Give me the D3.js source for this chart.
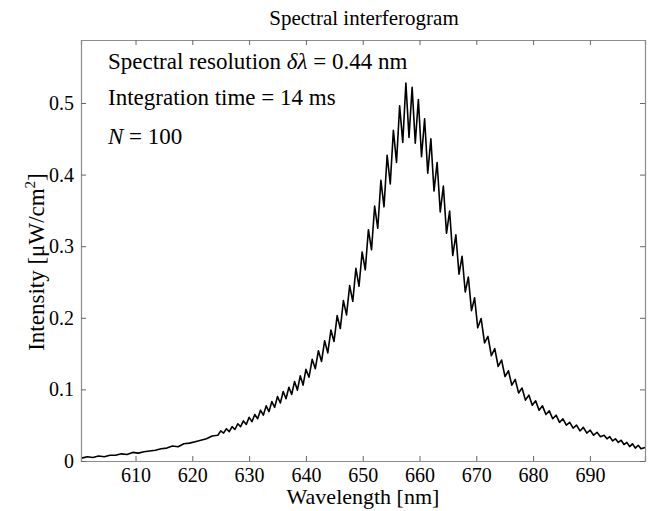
<!DOCTYPE html>
<html>
<head>
<meta charset="utf-8">
<script src="https://cdn.jsdelivr.net/npm/d3@7"></script>
<style>
  body { margin: 0; background: #fff; }
  text { font-family: "Liberation Serif", "Times New Roman", serif; }
</style>
</head>
<body>
<div id="chart"></div>
<script>
var width = 648,
    height = 511,
    margin = {top: 40, right: 3, bottom: 50, left: 81};

// wavelength [nm] and intensity [uW/cm^2]
var wavelength = [
  600.5, 601.5, 602.5, 603.5, 604.5, 605.5, 606.5, 607.5, 608.5, 609.5,
  610.5, 611.5, 612.5, 613.5, 614.5, 615.5, 616.5, 617.5, 618.5, 619.5,
  620.5, 621.5, 622.5, 623.5, 624.5,
  625.0, 625.5, 626.0, 626.5, 627.0, 627.5, 628.0, 628.5, 629.0, 629.5,
  630.0, 630.5, 631.0, 631.5, 632.0, 632.5, 633.0, 633.5, 634.0, 634.5,
  635.0, 635.5, 636.0, 636.5, 637.0, 637.5, 638.0, 638.5, 639.0, 639.5, 640.0,
  640.55, 641.1, 641.65, 642.2, 642.75, 643.3, 643.85, 644.4, 644.95, 645.5,
  646.05, 646.6, 647.15, 647.7, 648.25, 648.8, 649.35, 649.9, 650.45, 651.0,
  651.55, 652.1, 652.65, 653.2, 653.75, 654.3, 654.85, 655.4, 655.95, 656.5,
  657.05, 657.6, 658.15, 658.7, 659.25, 659.8, 660.35, 660.9, 661.45, 662.0,
  662.55, 663.1, 663.65, 664.2, 664.75, 665.3, 665.85, 666.4, 666.95, 667.5,
  668.05, 668.6, 669.15, 669.7, 670.25,
  670.85, 671.45, 672.05, 672.65, 673.25, 673.85, 674.45, 675.05, 675.65, 676.25,
  676.85, 677.45, 678.05, 678.65, 679.25, 679.85, 680.45, 681.05, 681.65, 682.25,
  682.85, 683.45, 684.05, 684.65, 685.25, 685.85, 686.45, 687.05, 687.65, 688.25,
  688.85, 689.45, 690.05, 690.65, 691.25, 691.85,
  692.5, 693.0, 693.5, 694.0, 694.5, 695.0, 695.5, 696.0, 696.5, 697.0,
  697.5, 698.0, 698.5, 699.0, 699.7
];
var intensity = [
  0.004, 0.006, 0.005, 0.007, 0.006, 0.008, 0.008, 0.010, 0.009, 0.012,
  0.011, 0.013, 0.014, 0.015, 0.017, 0.018, 0.021, 0.020, 0.024, 0.025,
  0.027, 0.029, 0.031, 0.035, 0.036,
  0.042, 0.039, 0.045, 0.041, 0.048, 0.044, 0.052, 0.048, 0.056, 0.051,
  0.061, 0.055, 0.065, 0.059, 0.071, 0.064, 0.077, 0.069, 0.083, 0.075,
  0.090, 0.081, 0.097, 0.087, 0.103, 0.093, 0.111, 0.099, 0.119, 0.106, 0.128,
  0.117, 0.142, 0.129, 0.154, 0.139, 0.168, 0.151, 0.183, 0.167, 0.203,
  0.185, 0.224, 0.204, 0.245, 0.223, 0.269, 0.244, 0.292, 0.267, 0.323,
  0.295, 0.356, 0.325, 0.392, 0.355, 0.427, 0.387, 0.462, 0.417, 0.496,
  0.445, 0.528, 0.452, 0.522, 0.444, 0.505, 0.425, 0.478, 0.402, 0.450,
  0.377, 0.417, 0.348, 0.384, 0.318, 0.349, 0.287, 0.316, 0.261, 0.286,
  0.236, 0.257, 0.210, 0.228, 0.186,
  0.199, 0.165, 0.174, 0.147, 0.157, 0.132, 0.141, 0.118, 0.126, 0.106,
  0.114, 0.095, 0.102, 0.085, 0.092, 0.078, 0.084, 0.071, 0.077, 0.065,
  0.070, 0.059, 0.064, 0.054, 0.059, 0.050, 0.054, 0.046, 0.050, 0.042,
  0.047, 0.039, 0.043, 0.036, 0.040, 0.034,
  0.036, 0.031, 0.034, 0.028, 0.031, 0.026, 0.029, 0.023, 0.026, 0.020,
  0.024, 0.018, 0.022, 0.017, 0.019
];

var xTicks = [610, 620, 630, 640, 650, 660, 670, 680, 690];
var yTicks = [0, 0.1, 0.2, 0.3, 0.4, 0.5];

var svg = d3.select("#chart")
    .append("svg")
    .attr("width", width)
    .attr("height", height);

var x = d3.scaleLinear()
    .domain([600.4, 699.7])
    .range([margin.left, width - margin.right]);

var y = d3.scaleLinear()
    .domain([0, 0.588])
    .range([height - margin.bottom, margin.top]);

var points = d3.zip(wavelength, intensity);

// curve
svg.append("path")
    .datum(points)
    .attr("fill", "none")
    .attr("stroke", "#000")
    .attr("stroke-width", 1.6)
    .attr("stroke-linejoin", "round")
    .attr("d", d3.line()
        .x(function(d) { return x(d[0]); })
        .y(function(d) { return y(d[1]); }));

// axes, ticks pointing inward like matlab
var axBottom = svg.append("g")
    .attr("transform", "translate(0," + (height - margin.bottom) + ")")
    .call(d3.axisBottom(x).tickValues(xTicks).tickSize(-5).tickPadding(7).tickFormat(d3.format("d")));
var axTop = svg.append("g")
    .attr("transform", "translate(0," + margin.top + ")")
    .call(d3.axisTop(x).tickValues(xTicks).tickSize(-5).tickFormat(""));
var axLeft = svg.append("g")
    .attr("transform", "translate(" + margin.left + ",0)")
    .call(d3.axisLeft(y).tickValues(yTicks).tickSize(-5).tickPadding(7)
        .tickFormat(function(d) { return d === 0 ? "0" : d3.format(".1f")(d); }));
var axRight = svg.append("g")
    .attr("transform", "translate(" + (width - margin.right) + ",0)")
    .call(d3.axisRight(y).tickValues(yTicks).tickSize(-5).tickFormat(""));

[axBottom, axTop, axLeft, axRight].forEach(function(g) {
    g.select(".domain").attr("stroke", "#8c8c8c").attr("stroke-width", 1.2);
    g.selectAll(".tick line").attr("stroke", "#666");
    g.selectAll(".tick text")
        .attr("fill", "#000")
        .style("font-family", "Liberation Serif")
        .style("font-size", "20px");
});

// title and labels
svg.append("text")
    .attr("x", 364)
    .attr("y", 25)
    .attr("text-anchor", "middle")
    .style("font-size", "21px")
    .text("Spectral interferogram");

svg.append("text")
    .attr("x", 363)
    .attr("y", 504)
    .attr("text-anchor", "middle")
    .style("font-size", "22px")
    .text("Wavelength [nm]");

var ylab = svg.append("text")
    .attr("transform", "translate(44,262) rotate(-90)")
    .attr("text-anchor", "middle")
    .style("font-size", "23px");
ylab.append("tspan").text("Intensity [\u03bcW/cm");
ylab.append("tspan").attr("dy", -9).style("font-size", "15px").text("2");
ylab.append("tspan").attr("dy", 9).text("]");

// annotations
var note1 = svg.append("text").attr("x", 108).attr("y", 69).style("font-size", "23px");
note1.append("tspan").text("Spectral resolution ");
note1.append("tspan").style("font-style", "italic").text("\u03b4\u03bb");
note1.append("tspan").text(" = 0.44 nm");

svg.append("text").attr("x", 108).attr("y", 105).style("font-size", "23px")
    .text("Integration time = 14 ms");

var note3 = svg.append("text").attr("x", 108).attr("y", 144).style("font-size", "23px");
note3.append("tspan").style("font-style", "italic").text("N");
note3.append("tspan").text(" = 100");
</script>
</body>
</html>
